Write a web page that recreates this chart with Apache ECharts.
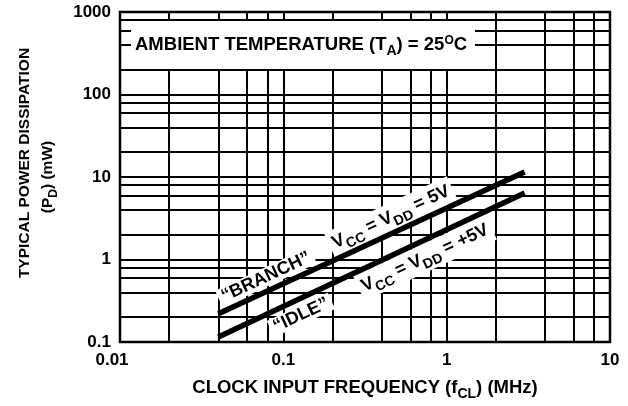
<!DOCTYPE html>
<html>
<head>
<meta charset="utf-8">
<style>
    html, body { margin: 0; padding: 0; background: #fff; }
    #main { width: 628px; height: 406px; }
</style>
<script src="https://cdn.jsdelivr.net/npm/echarts@6/dist/echarts.min.js"></script>
</head>
<body>
<div id="main"></div>
<script>
    // 数据
    var xTicks = [0.01, 0.1, 1, 10];
    var yTicks = [0.1, 1, 10, 100, 1000];
    var xGrid = [0.02, 0.04, 0.06, 0.08, 0.1, 0.2, 0.4, 0.6, 0.8, 1, 2, 4, 6, 8];
    var yGrid = [0.2, 0.4, 0.6, 0.8, 1, 2, 4, 6, 8, 10, 20, 40, 60, 80, 100, 200, 400, 600, 800];
    var branchX = [0.04, 3];
    var branchY = [0.22, 11.5];
    var idleX = [0.04, 3];
    var idleY = [0.115, 6.4];

    var FONT = 'Liberation Sans';
    var rad = Math.PI / 180;

    function pairs(xs, ys) {
        return xs.map(function (x, i) { return [x, ys[i]]; });
    }

    var txt = {
        n: {fontFamily: FONT, fontWeight: 'bold', fontSize: 18, fill: '#000', lineHeight: 18, verticalAlign: 'middle'},
        m: {fontFamily: FONT, fontWeight: 'bold', fontSize: 18.5, fill: '#000', lineHeight: 18, verticalAlign: 'middle'},
        s: {fontFamily: FONT, fontWeight: 'bold', fontSize: 14, fill: '#000', lineHeight: 27, verticalAlign: 'bottom'},
        p: {fontFamily: FONT, fontWeight: 'bold', fontSize: 12, fill: '#000', lineHeight: 20, verticalAlign: 'top', padding: [3, 0, 0, 0]}
    };

    function label(x, y, deg, text) {
        return {
            type: 'text',
            x: x,
            y: y,
            rotation: deg * rad,
            z: 20,
            silent: true,
            style: {
                text: text,
                rich: txt,
                align: 'center',
                verticalAlign: 'middle',
                backgroundColor: '#fff',
                padding: [0, 4, 0, 4]
            }
        };
    }

    var myChart = echarts.init(document.getElementById('main'));
    var option = {
        animation: false,
        backgroundColor: '#fff',
        grid: {
            left: 120,
            right: 18,
            top: 12,
            bottom: 59,
            containLabel: false,
            show: true,
            borderColor: '#000',
            borderWidth: 2.5
        },
        xAxis: {
            type: 'log',
            min: 0.01,
            max: 10,
            logBase: 10,
            axisLine: {show: false},
            axisTick: {show: false},
            splitLine: {show: false},
            axisLabel: {
                margin: 10,
                color: '#000',
                fontFamily: FONT,
                fontWeight: 'bold',
                fontSize: 17,
                formatter: function (v) {
                    return v < 0.05 ? '{a|' + v + '}' : String(v);
                },
                rich: {
                    a: {fontFamily: FONT, fontWeight: 'bold', fontSize: 17, color: '#000', padding: [0, 16, 0, 0]}
                }
            },
            name: '{n|CLOCK INPUT FREQUENCY (f}{s|CL}{n|) (MHz)}',
            nameLocation: 'middle',
            nameGap: 32,
            nameTextStyle: {
                rich: {
                    n: {fontFamily: FONT, fontWeight: 'bold', fontSize: 18.5, color: '#000', lineHeight: 18, verticalAlign: 'middle'},
                    s: {fontFamily: FONT, fontWeight: 'bold', fontSize: 14, color: '#000', lineHeight: 27, verticalAlign: 'bottom'}
                }
            }
        },
        yAxis: {
            type: 'log',
            min: 0.1,
            max: 1000,
            logBase: 10,
            axisLine: {show: false},
            axisTick: {show: false},
            splitLine: {show: false},
            axisLabel: {
                margin: 9,
                color: '#000',
                fontFamily: FONT,
                fontWeight: 'bold',
                fontSize: 17,
                formatter: function (v) { return String(v); }
            },
            name: '{f|TYPICAL POWER DISSIPATION}\n{n|(P}{s|D}{n|) (mW)}',
            nameLocation: 'middle',
            nameRotate: 90,
            nameGap: 60,
            nameTextStyle: {
                rich: {
                    f: {fontFamily: FONT, fontWeight: 'bold', fontSize: 15.5, color: '#000', lineHeight: 20, verticalAlign: 'middle', padding: [0, 0, 0, 28]},
                    n: {fontFamily: FONT, fontWeight: 'bold', fontSize: 15.5, color: '#000', lineHeight: 20, verticalAlign: 'middle'},
                    s: {fontFamily: FONT, fontWeight: 'bold', fontSize: 12, color: '#000', lineHeight: 25, verticalAlign: 'bottom'}
                }
            }
        },
        graphic: [
            {
                type: 'rect',
                z: 20,
                silent: true,
                shape: {x: 131, y: 21, width: 344, height: 48},
                style: {fill: '#fff'}
            },
            {
                type: 'text',
                x: 135,
                y: 45,
                z: 21,
                silent: true,
                style: {
                    text: '{m|AMBIENT TEMPERATURE (T}{s|A}{m|) = 25}{p|O}{m|C}',
                    rich: txt,
                    align: 'left',
                    verticalAlign: 'middle'
                }
            },
            label(266, 277, 25, '{n|\u201CBRANCH\u201D}'),
            label(391, 217, 25, '{n|V}{s|CC}{n| = V}{s|DD}{n| = 5V}'),
            label(301, 315, 25, '{n|\u201CIDLE\u201D}'),
            label(425, 258, 25, '{n|V}{s|CC}{n| = V}{s|DD}{n| = +5V}')
        ],
        series: [
            {
                name: 'grid',
                type: 'line',
                z: 1,
                silent: true,
                data: [],
                markLine: {
                    silent: true,
                    symbol: 'none',
                    label: {show: false},
                    lineStyle: {color: '#000', width: 2, type: 'solid'},
                    emphasis: {disabled: true},
                    data: xGrid.map(function (v) { return {xAxis: v}; })
                        .concat(yGrid.map(function (v) { return {yAxis: v}; }))
                }
            },
            {
                name: 'BRANCH',
                type: 'line',
                z: 30,
                symbol: 'none',
                lineStyle: {color: '#000', width: 5.5, cap: 'butt'},
                data: pairs(branchX, branchY)
            },
            {
                name: 'IDLE',
                type: 'line',
                z: 30,
                symbol: 'none',
                lineStyle: {color: '#000', width: 5.5, cap: 'butt'},
                data: pairs(idleX, idleY)
            }
        ]
    };
    if (option && typeof option === "object") {
        myChart.setOption(option, true);
    }
</script>
</body>
</html>
